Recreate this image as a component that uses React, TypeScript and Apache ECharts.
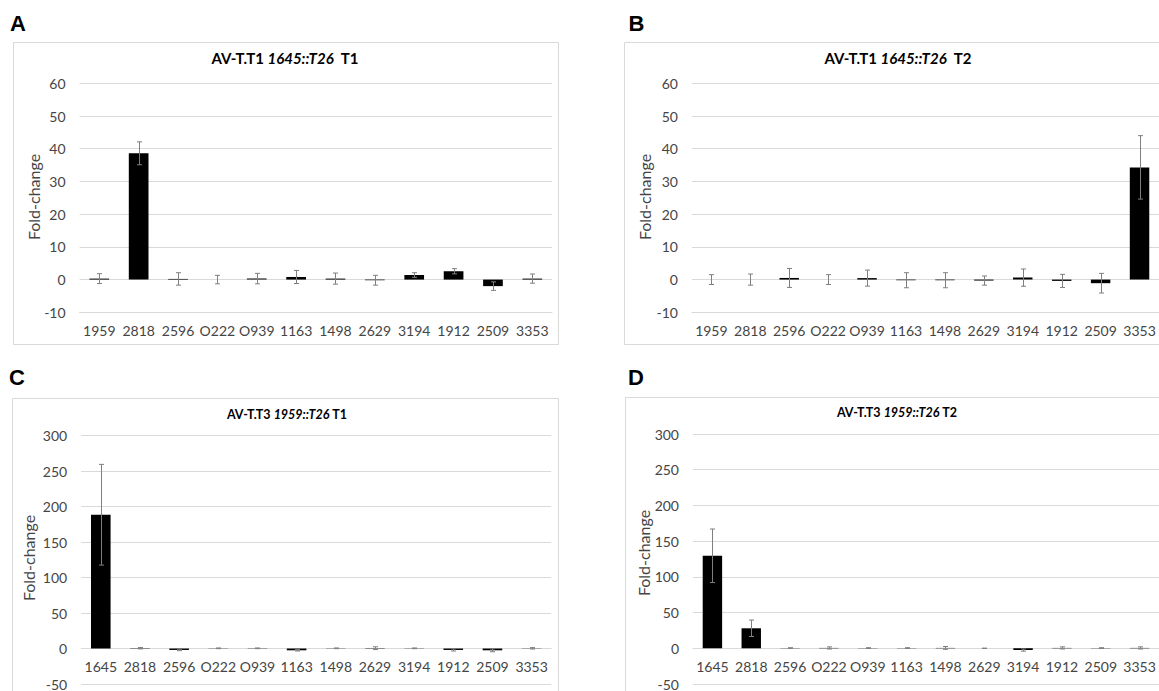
import React, { useEffect, useRef } from "react";
import * as echarts from "echarts";

const catsAB = ["1959", "2818", "2596", "O222", "O939", "1163", "1498", "2629", "3194", "1912", "2509", "3353"];
const catsCD = ["1645", "2818", "2596", "O222", "O939", "1163", "1498", "2629", "3194", "1912", "2509", "3353"];

const valuesA = [0.3, 38.6, 0.2, 0, 0.3, 0.8, 0.3, -0.2, 1.4, 2.55, -2.0, 0.3];
const errorsA = [1.5, 3.5, 1.9, 1.3, 1.6, 2.0, 1.7, 1.5, 0.7, 0.8, 1.3, 1.4];

const valuesB = [0, 0, 0.5, 0, 0.45, -0.2, -0.2, -0.3, 0.6, -0.4, -1.1, 34.3];
const errorsB = [1.5, 1.7, 2.9, 1.5, 2.45, 2.3, 2.3, 1.4, 2.65, 2.0, 3.0, 9.7];

const valuesC = [188.6, 0.5, -2, 0.3, 0.3, -2.5, 0.3, 0.5, 0.3, -2, -2.5, 0.3];
const errorsC = [71, 1, 1, 0.5, 0.5, 1, 0.5, 2, 0.5, 1.5, 2, 1];

const valuesD = [129.5, 28, 0.3, 0.5, 0.3, 0.3, 0.5, 0, -2.5, 0.5, 0.3, 0.5];
const errorsD = [37.5, 11.5, 0.5, 1.5, 0.5, 0.5, 2, 0, 1.5, 1.5, 0.5, 1.5];

const ticksAB = { min: -10, max: 60, interval: 10 };
const ticksCD = { min: -50, max: 300, interval: 50 };

const FONT = "Lato, 'Open Sans', sans-serif";
const GRID_COLOR = "#d9d9d9";
const TEXT_COLOR = "#454545";

export default function App() {
  const ref = useRef<HTMLDivElement>(null);

  useEffect(() => {
    document.body.style.margin = "0";
    const chart = echarts.init(ref.current!, null, { renderer: "svg" });

    const panels = [
      { cats: catsAB, vals: valuesA, errs: errorsA, ticks: ticksAB, atZero: false,
        grid: { left: 79.6, top: 83.3, width: 472.4, height: 229 } },
      { cats: catsAB, vals: valuesB, errs: errorsB, ticks: ticksAB, atZero: false,
        grid: { left: 691.9, top: 83.3, width: 472.4, height: 229 } },
      { cats: catsCD, vals: valuesC, errs: errorsC, ticks: ticksCD, atZero: true,
        grid: { left: 81.2, top: 435.7, width: 470, height: 249.3 } },
      { cats: catsCD, vals: valuesD, errs: errorsD, ticks: ticksCD, atZero: true,
        grid: { left: 693, top: 434, width: 470.4, height: 250.3 } },
    ];

    const grids = panels.map((p) => ({ ...p.grid, containLabel: false }));
    const xAxes = panels.map((p, i) => ({
      type: "category",
      gridIndex: i,
      data: p.cats,
      position: "bottom",
      offset: p.atZero ? -(p.grid.height * (0 - p.ticks.min)) / (p.ticks.max - p.ticks.min) : 0,
      axisTick: { show: false },
      axisLine: { show: true, onZero: false, lineStyle: { color: GRID_COLOR, width: 1 } },
      axisLabel: { color: TEXT_COLOR, fontFamily: FONT, fontSize: 14, margin: 11, interval: 0 },
      splitLine: { show: false },
    }));
    const yAxes = panels.map((p, i) => ({
      type: "value",
      gridIndex: i,
      min: p.ticks.min,
      max: p.ticks.max,
      interval: p.ticks.interval,
      axisLine: { show: false },
      axisTick: { show: false },
      axisLabel: { color: TEXT_COLOR, fontFamily: FONT, fontSize: 14, margin: 14 },
      splitLine: { show: true, lineStyle: { color: GRID_COLOR, width: 1 } },
    }));

    const series: any[] = [];
    panels.forEach((p, i) => {
      series.push({
        type: "bar",
        xAxisIndex: i,
        yAxisIndex: i,
        data: p.vals,
        barWidth: "50%",
        itemStyle: { color: "#000000" },
        silent: true,
      });
      series.push({
        type: "custom",
        xAxisIndex: i,
        yAxisIndex: i,
        silent: true,
        z: 5,
        encode: { x: 0, y: [1, 2] },
        data: p.vals.map((v, k) => [k, v - p.errs[k], v + p.errs[k]]),
        renderItem: (params: any, api: any) => {
          const x = api.value(0);
          const lo = api.coord([x, api.value(1)]);
          const hi = api.coord([x, api.value(2)]);
          const cx = Math.round(hi[0]) + 0.5;
          const w = 2.5;
          const st = { stroke: "#7f7f7f", lineWidth: 1 };
          return {
            type: "group",
            children: [
              { type: "line", shape: { x1: cx, y1: hi[1], x2: cx, y2: lo[1] }, style: st },
              { type: "line", shape: { x1: cx - w, y1: hi[1], x2: cx + w, y2: hi[1] }, style: st },
              { type: "line", shape: { x1: cx - w, y1: lo[1], x2: cx + w, y2: lo[1] }, style: st },
            ],
          };
        },
      });
    });

    const frame = (x: number, y: number, w: number, h: number) => ({
      type: "rect",
      shape: { x, y, width: w, height: h },
      style: { fill: "none", stroke: GRID_COLOR, lineWidth: 1 },
      silent: true,
      z: -10,
    });
    const panelLabel = (t: string, x: number, y: number) => ({
      type: "text",
      x,
      y,
      style: { text: t, fontFamily: "'Liberation Sans', Arial, sans-serif", fontWeight: "bold", fontSize: 22,
        fill: "#000", align: "center", verticalAlign: "middle" },
    });
    const yName = (x: number, y: number) => ({
      type: "text",
      x,
      y,
      rotation: Math.PI / 2,
      style: { text: "Fold-change", fontFamily: FONT, fontSize: 16, fill: TEXT_COLOR,
        align: "center", verticalAlign: "middle" },
    });
    const title = (pre: string, it: string, post: string, x: number, y: number, size: number) => ({
      type: "text",
      x,
      y,
      style: {
        text: `{a|${pre}}{b|${it}}{a|${post}}`,
        align: "center",
        verticalAlign: "middle",
        rich: {
          a: { fontFamily: FONT, fontWeight: "bold", fontSize: size, fill: "#000", color: "#000" },
          b: { fontFamily: FONT, fontWeight: "bold", fontStyle: "italic", fontSize: size, fill: "#000", color: "#000" },
        },
      },
    });

    chart.setOption({
      animation: false,
      backgroundColor: "#ffffff",
      grid: grids,
      xAxis: xAxes,
      yAxis: yAxes,
      series,
      graphic: [
        frame(13.5, 42.5, 545, 302),
        frame(624.5, 42.5, 545, 302),
        frame(12.5, 398.5, 546, 300),
        frame(625.5, 397.5, 546, 300),
        panelLabel("A", 18, 23.5),
        panelLabel("B", 636.5, 23.5),
        panelLabel("C", 17, 377),
        panelLabel("D", 636, 377),
        yName(33, 197),
        yName(644.8, 197),
        yName(28, 558),
        yName(643.7, 553),
        title("AV-T.T1 ", "1645::T26", "  T1", 285, 58, 15),
        title("AV-T.T1 ", "1645::T26", "  T2", 898, 58, 15),
        title("AV-T.T3 ", "1959::T26", " T1", 287, 414, 12.5),
        title("AV-T.T3 ", "1959::T26", " T2", 897, 412, 12.5),
      ],
    });

    return () => chart.dispose();
  }, []);

  return (
    <div
      ref={ref}
      style={{ position: "fixed", left: 0, top: 0, width: 1159, height: 691, background: "#fff" }}
    />
  );
}
